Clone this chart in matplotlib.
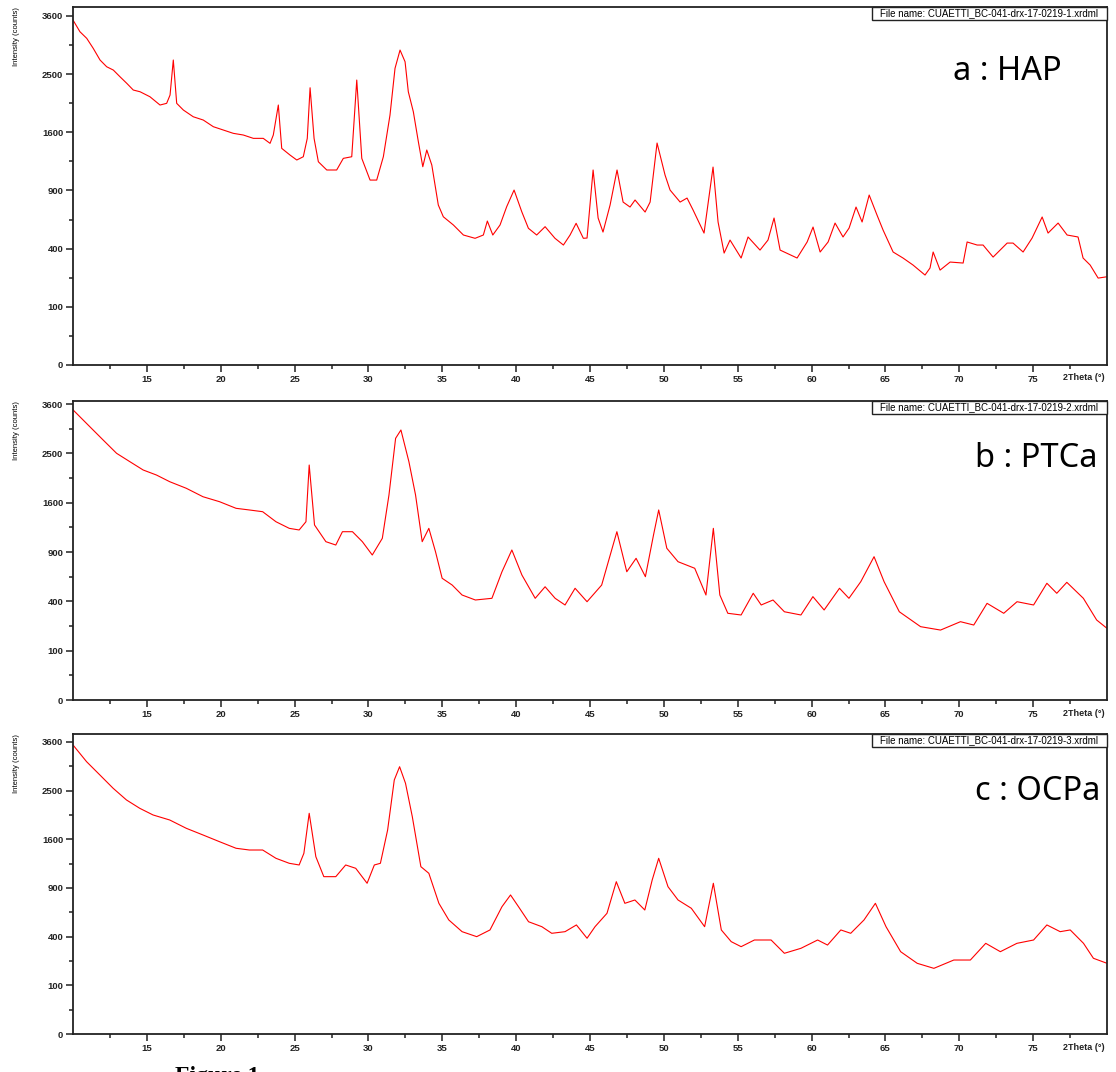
import numpy as np
import matplotlib.pyplot as plt
from matplotlib.patches import Rectangle

# 2theta (deg) / intensity (counts)
two_theta_a = [10.0, 10.47, 10.93, 11.37, 11.83, 12.28, 12.73, 13.18, 13.64, 14.08,
               14.54, 15.21, 15.89, 16.34, 16.57, 16.79, 17.02, 17.47, 18.14, 18.82,
               19.50, 20.18, 20.85, 21.53, 22.21, 22.88, 23.34, 23.56, 23.90, 24.13,
               24.69, 25.15, 25.59, 25.86, 26.05, 26.32, 26.61, 27.18, 27.85, 28.30,
               28.87, 29.21, 29.55, 30.11, 30.56, 31.01, 31.46, 31.80, 32.14, 32.48,
               32.70, 33.04, 33.38, 33.68, 33.95, 34.29, 34.73, 35.07, 35.75, 36.43,
               37.22, 37.78, 38.05, 38.42, 38.91, 39.36, 39.86, 40.38, 40.83, 41.39,
               41.96, 42.63, 43.20, 43.65, 44.06, 44.55, 44.80, 45.21, 45.55, 45.88,
               46.36, 46.83, 47.24, 47.71, 48.05, 48.73, 49.07, 49.54, 50.08, 50.42,
               51.10, 51.57, 51.98, 52.72, 53.33, 53.67, 54.08, 54.48, 55.23, 55.70,
               56.51, 57.05, 57.46, 57.87, 59.02, 59.70, 60.10, 60.58, 61.12, 61.59,
               62.13, 62.54, 63.01, 63.42, 63.90, 64.43, 64.84, 65.52, 66.19, 66.87,
               67.68, 68.02, 68.23, 68.70, 69.38, 70.26, 70.53, 71.21, 71.61, 72.29,
               73.24, 73.64, 74.32, 74.93, 75.61, 76.01, 76.69, 77.30, 78.04, 78.38,
               78.86, 79.40, 80.0]
counts_a = [3514, 3280, 3151, 2961, 2747, 2627, 2569, 2454, 2343, 2233,
            2205, 2125, 1996, 2022, 2152, 2747, 2022, 1920, 1820, 1772,
            1677, 1630, 1585, 1562, 1517, 1517, 1451, 1562, 1996, 1386,
            1302, 1241, 1281, 1517, 2270, 1517, 1220, 1123, 1123, 1261,
            1281, 2398, 1261, 1010, 1010, 1281, 1845, 2599, 2929, 2716,
            2205, 1894, 1472, 1161, 1365, 1181, 756, 649, 579, 499,
            474, 499, 612, 499, 579, 740, 904, 694, 552, 499,
            565, 474, 425, 499, 593, 474, 476, 1123, 638, 522,
            756, 1123, 784, 737, 804, 691, 784, 1455, 1066, 904,
            784, 823, 709, 514, 1157, 604, 370, 461, 338, 484,
            390, 461, 638, 390, 338, 447, 562, 377, 447, 595,
            484, 554, 737, 604, 853, 664, 538, 377, 338, 295,
            239, 278, 377, 266, 313, 307, 447, 425, 425, 344,
            439, 439, 377, 476, 647, 514, 595, 499, 484, 338,
            295, 223, 230]

two_theta_b = [10.0, 11.14, 12.04, 12.95, 13.85, 14.75, 15.65, 16.55, 17.67, 18.80,
               19.92, 21.04, 21.94, 22.84, 23.74, 24.64, 25.31, 25.77, 25.99, 26.35,
               27.12, 27.79, 28.24, 28.92, 29.59, 30.26, 30.94, 31.39, 31.84, 32.20,
               32.74, 33.19, 33.64, 34.09, 34.54, 34.99, 35.67, 36.34, 37.24, 38.36,
               39.04, 39.71, 40.39, 41.29, 41.96, 42.64, 43.31, 43.99, 44.80, 45.79,
               46.24, 46.82, 47.49, 48.12, 48.75, 49.30, 49.65, 50.20, 50.96, 52.09,
               52.85, 53.35, 53.79, 54.33, 55.23, 56.05, 56.59, 57.39, 58.16, 59.28,
               60.09, 60.85, 61.89, 62.53, 63.33, 64.23, 64.91, 65.94, 67.38, 68.73,
               70.08, 70.98, 71.88, 73.01, 73.91, 75.03, 75.93, 76.60, 77.28, 78.40,
               79.30, 80.0]
counts_b = [3460, 3069, 2778, 2501, 2334, 2174, 2080, 1958, 1842, 1698,
            1616, 1510, 1484, 1457, 1306, 1211, 1188, 1306, 2269, 1259,
            1030, 987, 1164, 1164, 1030, 864, 1074, 1727, 2814, 2996,
            2334, 1727, 1030, 1211, 904, 609, 543, 453, 411, 425,
            676, 925, 642, 425, 527, 425, 371, 513, 397, 543,
            786, 1164, 676, 825, 625, 1119, 1484, 946, 786, 713,
            453, 1211, 453, 309, 297, 468, 371, 411, 320, 297,
            439, 333, 513, 425, 575, 844, 575, 320, 221, 201,
            252, 231, 384, 309, 397, 371, 560, 468, 569, 425,
            263, 211]

two_theta_c = [10.0, 10.92, 11.82, 12.72, 13.62, 14.52, 15.42, 16.55, 17.67, 18.80,
               19.92, 21.04, 21.94, 22.84, 23.74, 24.64, 25.31, 25.63, 25.99, 26.44,
               26.98, 27.79, 28.46, 29.14, 29.91, 30.40, 30.81, 31.30, 31.75, 32.11,
               32.51, 32.97, 33.55, 34.09, 34.77, 35.44, 36.34, 37.33, 38.23, 39.04,
               39.62, 40.16, 40.84, 41.74, 42.41, 43.31, 44.08, 44.80, 45.34, 46.15,
               46.78, 47.36, 48.04, 48.71, 49.21, 49.65, 50.28, 50.96, 51.86, 52.76,
               53.35, 53.89, 54.56, 55.23, 56.13, 57.26, 58.16, 59.28, 60.41, 61.08,
               61.98, 62.65, 63.55, 64.32, 65.04, 66.03, 67.15, 68.28, 69.63, 70.75,
               71.79, 72.78, 73.90, 75.03, 75.93, 76.83, 77.51, 78.41, 79.08, 80.0]
counts_c = [3526, 3130, 2832, 2548, 2312, 2150, 2025, 1933, 1786, 1672,
            1561, 1456, 1429, 1429, 1303, 1230, 1206, 1378, 2056, 1327,
            1045, 1045, 1206, 1159, 959, 1206, 1230, 1757, 2724, 3016,
            2653, 1994, 1182, 1090, 721, 549, 442, 400, 457, 684,
            816, 684, 532, 486, 428, 442, 502, 387, 486, 615,
            979, 721, 758, 649, 1001, 1303, 916, 758, 667, 486,
            959, 457, 360, 322, 373, 373, 275, 310, 373, 334,
            457, 428, 549, 721, 486, 286, 211, 182, 231, 231,
            347, 286, 347, 373, 502, 442, 457, 347, 242, 211]

sample_labels = ["a : HAP", "b : PTCa", "c : OCPa"]
file_names = ["File name: CUAETTI_BC-041-drx-17-0219-1.xrdml",
              "File name: CUAETTI_BC-041-drx-17-0219-2.xrdml",
              "File name: CUAETTI_BC-041-drx-17-0219-3.xrdml"]
y_major = [0, 100, 400, 900, 1600, 2500, 3600]
y_minor = [25, 225, 625, 1225, 2025, 3025]
x_major = [15, 20, 25, 30, 35, 40, 45, 50, 55, 60, 65, 70, 75]
x_minor = [12.5, 17.5, 22.5, 27.5, 32.5, 37.5, 42.5, 47.5, 52.5, 57.5, 62.5, 67.5, 72.5, 77.5]
y_tops = [3785, 3674, 3799]

W, H = 1116, 1072
fig = plt.figure(figsize=(W / 100, H / 100), dpi=100)

# axes boxes in pixels: left, top, right, bottom
boxes = [(73, 7, 1107, 365), (73, 401, 1107, 700), (73, 734, 1107, 1034)]
label_pos = [(953, 80), (975, 467), (975, 800)]

series = [(two_theta_a, counts_a), (two_theta_b, counts_b), (two_theta_c, counts_c)]

tick_font = dict(family="Liberation Sans", size=6.8, weight="bold")

for i, (l, t, r, b) in enumerate(boxes):
    ax = fig.add_axes([l / W, 1 - b / H, (r - l) / W, (b - t) / H])
    x, y = series[i]
    ax.plot(x, y, color="#ff0000", lw=0.8)
    ax.set_yscale("function", functions=(lambda v: np.sqrt(np.clip(v, 0, None)),
                                          lambda v: np.square(v)))
    ax.set_xlim(10, 80)
    ax.set_ylim(0, y_tops[i])
    ax.set_yticks(y_major)
    ax.set_yticks(y_minor, minor=True)
    ax.set_yticklabels([str(v) for v in y_major], fontdict=tick_font)
    ax.set_xticks(x_major)
    ax.set_xticks(x_minor, minor=True)
    ax.set_xticklabels([str(v) for v in x_major], fontdict=tick_font)
    ax.tick_params(which="both", direction="out", width=1.1, color="#222222",
                   labelcolor="#222222", top=False, right=False, pad=2)
    ax.tick_params(which="major", length=5)
    ax.tick_params(which="minor", length=3)
    for sp in ax.spines.values():
        sp.set_linewidth(1.3)
        sp.set_color("#222222")

    # file-name box in the top-right corner
    bw = (r - 872) / (r - l)
    bh = 13 / (b - t)
    ax.add_patch(Rectangle((1 - bw, 1 - bh), bw, bh, transform=ax.transAxes,
                           fc="white", ec="#222222", lw=1.0, clip_on=False, zorder=5))
    ax.text(1 - bw / 2, 1 - bh / 2, file_names[i], transform=ax.transAxes,
            ha="center", va="center", family="Liberation Sans", size=7, zorder=6)

    lx, ly = label_pos[i]
    fig.text(lx / W, 1 - ly / H, sample_labels[i], family="Noto Sans", size=23.5,
             ha="left", va="baseline")

    fig.text(17 / W, 1 - t / H, "Intensity (counts)", rotation=90, ha="center",
             va="top", family="Liberation Sans", size=5.5)
    fig.text(1105 / W, 1 - (b + 13) / H, "2Theta (°)", ha="right", va="center",
             family="Liberation Sans", size=6.5, weight="bold", color="#222222")

fig.text(175 / W, 1 - 1066 / H, "Figure 1", family="Liberation Serif",
         weight="bold", size=17, ha="left", va="top")

fig.savefig("out.png", dpi=100)
